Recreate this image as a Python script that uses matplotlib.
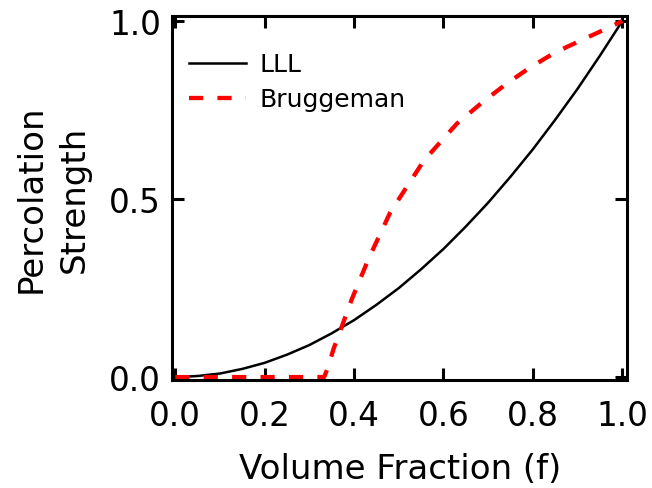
import matplotlib
matplotlib.use("Agg")
import matplotlib.pyplot as plt

# LLL curve
f_lll = [0.0, 0.05, 0.1, 0.15, 0.2, 0.25, 0.3, 0.35, 0.4, 0.45, 0.5,
         0.55, 0.6, 0.65, 0.7, 0.75, 0.8, 0.85, 0.9, 0.95, 1.0]
p_lll = [0.0, 0.003, 0.010, 0.023, 0.040, 0.063, 0.090, 0.123, 0.160, 0.203,
         0.250, 0.303, 0.360, 0.423, 0.490, 0.563, 0.640, 0.723, 0.810, 0.903,
         1.0]

# Bruggeman curve
f_brug = [0.0, 0.333, 0.343, 0.354, 0.365, 0.395, 0.432, 0.481, 0.556,
          0.63, 0.69, 0.742, 0.794, 0.85, 0.906, 0.958, 1.0]
p_brug = [0.0, 0.0, 0.032, 0.079, 0.116, 0.219, 0.331, 0.463, 0.608,
          0.712, 0.775, 0.825, 0.87, 0.912, 0.945, 0.975, 1.0]

xticks = [0.0, 0.2, 0.4, 0.6, 0.8, 1.0]
yticks = [0.0, 0.5, 1.0]

plt.rcParams['font.family'] = ['DejaVu Sans']

fig = plt.figure(figsize=(6.52, 4.89), dpi=100)
ax = fig.add_axes([0.264, 0.221, 0.698, 0.744])

ax.plot(f_lll, p_lll, color='black', lw=1.8, label='LLL')
ax.plot(f_brug, p_brug, color='red', lw=3.1, linestyle=(0, (3.3, 3.3)),
        label='Bruggeman')

ax.set_xlim(-0.007, 1.011)
ax.set_ylim(-0.008, 1.014)
ax.set_xticks(xticks)
ax.set_yticks(yticks)
ax.set_xticklabels(['%.1f' % v for v in xticks])
ax.set_yticklabels(['%.1f' % v for v in yticks])

for s in ax.spines.values():
    s.set_linewidth(2.2)
ax.tick_params(direction='in', length=8.6, width=2.2, top=True, right=True,
               labelsize=23.5)
ax.tick_params(axis='x', pad=14)
ax.tick_params(axis='y', pad=8)

ax.set_xlabel('Volume Fraction (f)', fontsize=24.5, labelpad=14)
ax.set_ylabel('Percolation\nStrength', fontsize=24.5, linespacing=1.4)
ax.yaxis.set_label_coords(-0.178, 0.5)

ax.legend(loc='upper left', bbox_to_anchor=(0.037, 0.90), frameon=False,
          fontsize=18, handlelength=2.28, handletextpad=0.56,
          labelspacing=0.44, borderaxespad=0, borderpad=0)

fig.savefig('out.png', dpi=100)
